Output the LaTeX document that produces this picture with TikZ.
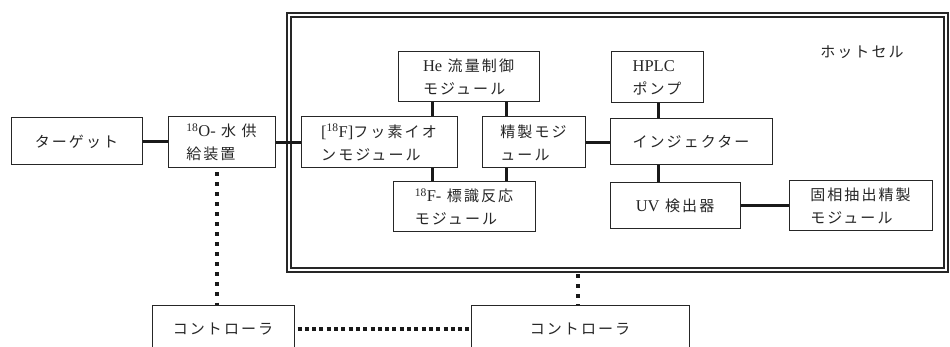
\documentclass[tikz,border=0pt]{standalone}
\usepackage{fontspec}
\setmainfont{Noto Sans CJK JP}[LetterSpace=14]
\newfontfamily\lat{Liberation Serif}[Scale=1.1]
\newcommand{\sq}[1]{\textsuperscript{\lat #1}}
\begin{document}
\begin{tikzpicture}[x=1pt,y=-1pt,
  box/.style={draw=black!85, line width=1pt, rectangle, inner sep=0pt, align=left,
    font=\fontsize{15}{23}\selectfont, text=black!85},
  conn/.style={line width=3pt, draw=black!90},
  vdots/.style={line width=4pt, dash pattern=on 4pt off 6pt, draw=black!90},
  hdots/.style={line width=4pt, dash pattern=on 4pt off 3.3pt, draw=black!90},
  cell/.style={draw=black!85, line width=2.4pt, double=white, double distance=1.6pt,
    rectangle, inner sep=0pt}]
\useasboundingbox (0,0) rectangle (950,347);
\clip (0,0) rectangle (950,347);
\fill[white] (0,0) rectangle (950,347);

% hot cell
\node[cell, minimum width=657pt, minimum height=255pt] (hot) at (617.5,142.5) {};
\node[font=\fontsize{15}{18}\selectfont, text=black!85] (hotlbl) at (862,52) {ホットセル};

% boxes
\node[box, minimum width=131pt, minimum height=47pt] (tgt) at (76.5,141.5) {ターゲット};
\node[box, minimum width=107pt, minimum height=51pt] (o18) at (221.5,142.5) {\sq{18}{\lat O-} 水 供\\給装置};
\node[box, minimum width=141pt, minimum height=50pt] (he) at (468.5,77) {{\lat He} 流量制御\\モジュール};
\node[box, minimum width=156pt, minimum height=51pt] (f18) at (379,142.5) {{\lat [}\sq{18}{\lat F]}フッ素イオ\\ンモジュール};
\node[box, minimum width=103pt, minimum height=51pt] (sei) at (533.5,142.5) {精製モジ\\ュール};
\node[box, minimum width=142pt, minimum height=50pt] (lab) at (464,207) {\sq{18}{\lat F-} 標識反応\\モジュール};
\node[box, minimum width=92pt, minimum height=51pt] (hplc) at (657,77.5) {{\lat HPLC}\\ポンプ};
\node[box, minimum width=162pt, minimum height=46pt] (inj) at (691,142) {インジェクター};
\node[box, minimum width=130pt, minimum height=46pt] (uv) at (675,206) {{\lat UV} 検出器};
\node[box, minimum width=143pt, minimum height=50pt] (spe) at (860.5,206) {固相抽出精製\\モジュール};
\node[box, minimum width=142pt, minimum height=48pt] (ctrl1) at (223,329) {コントローラ};
\node[box, minimum width=218pt, minimum height=48pt] (ctrl2) at (580,329) {コントローラ};

% x positions of vertical links
\coordinate (cA) at (432,0);
\coordinate (cB) at (506,0);
\coordinate (cC) at (658,0);
\coordinate (cD) at (217,0);
\coordinate (cE) at (578,0);

% solid connectors
\draw[conn] (tgt.east) -- (tgt.east -| o18.west);
\draw[conn] (o18.east) -- (f18.west);
\draw[conn] (sei.east) -- (sei.east -| inj.west);
\draw[conn] (uv.east) -- (spe.west);
\draw[conn] (he.south -| cA) -- (f18.north -| cA);
\draw[conn] (f18.south -| cA) -- (lab.north -| cA);
\draw[conn] (he.south -| cB) -- (sei.north -| cB);
\draw[conn] (sei.south -| cB) -- (lab.north -| cB);
\draw[conn] (hplc.south -| cC) -- (inj.north -| cC);
\draw[conn] (inj.south -| cC) -- (uv.north -| cC);

% dotted connectors
\draw[vdots] ([yshift=-4pt]o18.south -| cD) -- (ctrl1.north -| cD);
\draw[hdots] ([xshift=3pt]ctrl1.east) -- (ctrl2.west);
\draw[vdots] ([yshift=-3pt]hot.south -| cE) -- (ctrl2.north -| cE);
\end{tikzpicture}
\end{document}
